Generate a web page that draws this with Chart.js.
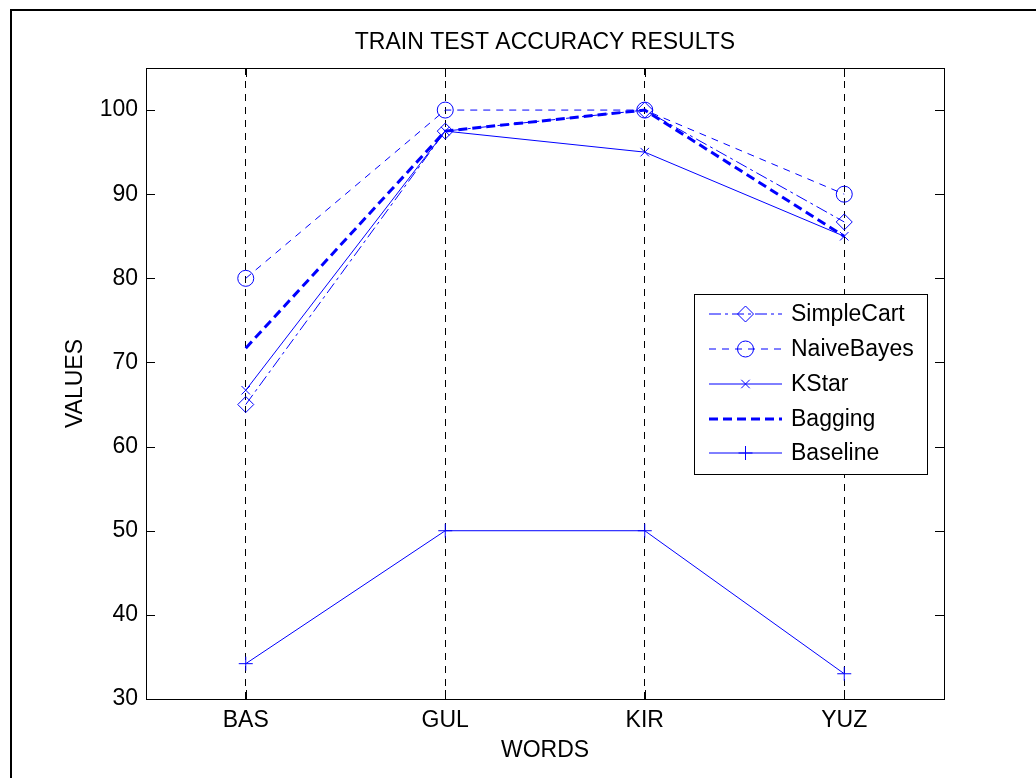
<!DOCTYPE html>
<html>
<head>
<meta charset="utf-8">
<script src="https://cdn.jsdelivr.net/npm/chart.js@4.4.1/dist/chart.umd.min.js"></script>
<style>
  body { margin: 0; background: #fff; }
  canvas { display: block; }
</style>
</head>
<body>
<canvas id="grafico" width="1036" height="778"></canvas>
<script>
// valores
const palavras = ["BAS", "GUL", "KIR", "YUZ"];
const simpleCart = [65, 97.5, 100, 86.7];
const naiveBayes = [80, 100, 100, 90];
const kStar = [66.7, 97.5, 95, 85];
const bagging = [71.7, 97.5, 100, 85];
const baseline = [34.2, 50, 50, 33];
const yTicks = [30, 40, 50, 60, 70, 80, 90, 100];

const azul = "#0000ff";
const fonte = "'Liberation Sans', Arial, sans-serif";
const tamFonte = 23;

Chart.defaults.font.family = fonte;
Chart.defaults.font.size = tamFonte;
Chart.defaults.color = "#000";

const ctx = document.getElementById("grafico");

// moldura, ticks internos, titulo e legenda no estilo matlab
const molduraPlugin = {
  id: "moldura",
  afterDraw(chart) {
    const c = chart.ctx;
    const a = chart.chartArea;
    const sx = chart.scales.x;
    const sy = chart.scales.y;
    c.save();
    c.strokeStyle = "#000";
    c.lineWidth = 1;
    c.setLineDash([]);
    c.strokeRect(a.left + 0.5, a.top + 0.5, a.right - a.left, a.bottom - a.top);

    c.beginPath();
    yTicks.forEach((v) => {
      const py = Math.round(sy.getPixelForValue(v)) + 0.5;
      c.moveTo(a.left, py);
      c.lineTo(a.left + 9, py);
      c.moveTo(a.right, py);
      c.lineTo(a.right - 9, py);
    });
    palavras.forEach((p, i) => {
      const px = Math.round(sx.getPixelForValue(i)) + 0.5;
      c.moveTo(px, a.top);
      c.lineTo(px, a.top + 9);
      c.moveTo(px, a.bottom);
      c.lineTo(px, a.bottom - 9);
    });
    c.stroke();

    // titulo
    c.fillStyle = "#000";
    c.font = tamFonte + "px " + fonte;
    c.textAlign = "center";
    c.textBaseline = "middle";
    c.fillText("TRAIN TEST ACCURACY RESULTS", (a.left + a.right) / 2, 43);

    // legenda
    const lx = 694, ly = 294, lw = 233, lh = 180;
    c.fillStyle = "#fff";
    c.fillRect(lx, ly, lw, lh);
    c.strokeRect(lx + 0.5, ly + 0.5, lw, lh);
    const linhas = [314, 349, 384, 419, 453];
    chart.data.datasets.forEach((ds, i) => {
      const yy = linhas[i];
      c.strokeStyle = azul;
      c.lineWidth = ds.borderWidth;
      c.setLineDash(ds.borderDash || []);
      c.beginPath();
      c.moveTo(709, yy);
      c.lineTo(782, yy);
      c.stroke();
      c.setLineDash([]);
      if (ds.pointRadius > 0) {
        c.strokeStyle = azul;
        c.lineWidth = 1;
        c.fillStyle = "rgba(0,0,0,0)";
        Chart.helpers.drawPoint(c, {
          pointStyle: ds.pointStyle,
          radius: ds.pointRadius,
          rotation: 0,
          borderWidth: 1,
        }, 745.5, yy);
      }
      c.fillStyle = "#000";
      c.textAlign = "left";
      c.fillText(ds.label, 791, linhas[i] + 1);
    });

    // moldura externa
    c.strokeStyle = "#000";
    c.lineWidth = 2;
    c.strokeRect(11, 10, 1200, 1000);
    c.restore();
  },
};

function serie(label, data, extra) {
  return Object.assign({
    label: label,
    data: data,
    borderColor: azul,
    borderWidth: 1,
    pointBorderColor: azul,
    pointBackgroundColor: "rgba(0,0,0,0)",
    pointBorderWidth: 1,
    pointHoverRadius: 0,
    tension: 0,
  }, extra);
}

new Chart(ctx, {
  type: "line",
  data: {
    labels: palavras,
    datasets: [
      serie("SimpleCart", simpleCart, { borderDash: [12, 4, 3, 4], pointStyle: "rectRot", pointRadius: 8 }),
      serie("NaiveBayes", naiveBayes, { borderDash: [7, 6], pointStyle: "circle", pointRadius: 8 }),
      serie("KStar", kStar, { pointStyle: "crossRot", pointRadius: 6 }),
      serie("Bagging", bagging, { borderWidth: 3, borderDash: [9, 5], pointRadius: 0 }),
      serie("Baseline", baseline, { pointStyle: "cross", pointRadius: 7 }),
    ],
  },
  options: {
    responsive: false,
    animation: false,
    layout: { padding: { top: 68, right: 92, left: 0, bottom: 0 } },
    scales: {
      x: {
        offset: true,
        grid: { color: "#000", lineWidth: 1, drawTicks: false },
        border: { display: false, dash: [7, 6] },
        ticks: { padding: 8 },
        title: { display: true, text: "WORDS", padding: { top: 14, bottom: 14 } },
        afterFit: (s) => { s.height = 79; },
      },
      y: {
        min: 30,
        max: 105,
        grid: { display: false, drawTicks: false },
        border: { display: false },
        ticks: { stepSize: 10, includeBounds: false, padding: 8 },
        title: { display: true, text: "VALUES", padding: { top: 62, bottom: 62 } },
        afterFit: (s) => { s.width = 146; },
      },
    },
    plugins: {
      legend: { display: false },
      tooltip: { enabled: false },
    },
  },
  plugins: [molduraPlugin],
});
</script>
</body>
</html>
